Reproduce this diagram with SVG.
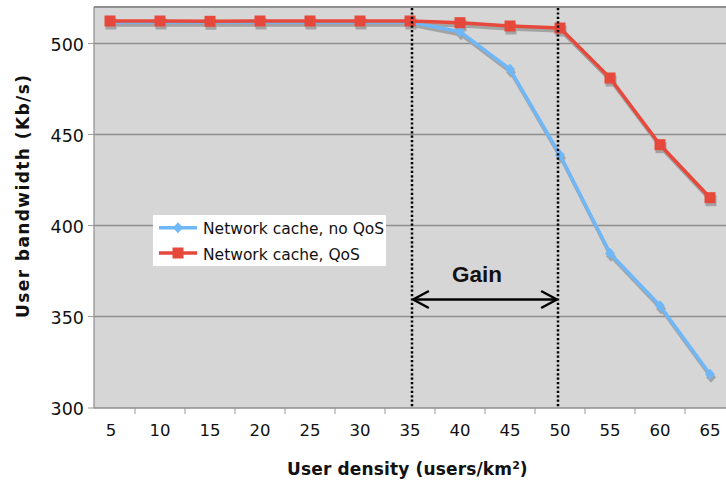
<svg xmlns="http://www.w3.org/2000/svg" width="726" height="484" viewBox="0 0 726 484">
  <defs>
    <style>
      .grid { stroke: #8e8e8e; stroke-width: 1.6; fill: none; }
      .tick { stroke: #9a9a9a; stroke-width: 1; }
      .ylab { font-family: "DejaVu Sans", Verdana, sans-serif; font-size: 17.5px; fill: #111; text-anchor: end; }
      .xlab { font-family: "DejaVu Sans", Verdana, sans-serif; font-size: 16.5px; fill: #111; text-anchor: middle; }
      .title { font-family: "DejaVu Sans", Verdana, sans-serif; font-size: 17px; font-weight: bold; fill: #111; }
      .legtext { font-family: "DejaVu Sans", Verdana, sans-serif; font-size: 15.5px; fill: #111; }
      .shadow { stroke: #a3a3a3; stroke-width: 3.5; fill: none; stroke-linejoin: round; }
      .blue { stroke: #6fb7f7; stroke-width: 3.5; fill: none; stroke-linejoin: round; }
      .red { stroke: #e6483b; stroke-width: 3.5; fill: none; stroke-linejoin: round; }
      .marker-red { fill: #e6483b; }
      .marker-blue { fill: #6fb7f7; }
      .marker-shadow { fill: #a3a3a3; }
      .dotted { stroke: #000; stroke-width: 2.5; stroke-dasharray: 2.2 2.2; fill: none; }
    </style>
    <rect id="sq" x="-5.5" y="-5.5" width="11" height="11"/>
    <path id="dm" d="M0,-5.5 L5,0 L0,5.5 L-5,0 Z"/>
    <path id="arrowOpen" d="M0,0 L-15,-8 M0,0 L-15,8" stroke="#000" stroke-width="2.5" fill="none" stroke-linecap="round"/>
  </defs>

  <rect x="0" y="0" width="726" height="484" fill="#ffffff"/>

  <!-- plot area -->
  <g id="plot-area">
    <rect x="94" y="7" width="632" height="401" fill="#d6d6d6"/>
    <line x1="94" y1="7" x2="726" y2="7" stroke="#8e8e8e" stroke-width="2"/>
    <line class="grid" x1="94" y1="43.5" x2="726" y2="43.5"/>
    <line class="grid" x1="94" y1="134.5" x2="726" y2="134.5"/>
    <line class="grid" x1="94" y1="225.5" x2="726" y2="225.5"/>
    <line class="grid" x1="94" y1="316.5" x2="726" y2="316.5"/>
    <line class="grid" x1="94" y1="408" x2="726" y2="408"/>
    <line x1="94" y1="7" x2="94" y2="408" stroke="#8e8e8e" stroke-width="1.2"/>
  </g>

  <!-- axis ticks -->
  <g id="ticks">
    <line class="tick" x1="88" y1="43.5" x2="94" y2="43.5"/>
    <line class="tick" x1="88" y1="134.5" x2="94" y2="134.5"/>
    <line class="tick" x1="88" y1="225.5" x2="94" y2="225.5"/>
    <line class="tick" x1="88" y1="316.5" x2="94" y2="316.5"/>
    <line class="tick" x1="88" y1="408" x2="94" y2="408"/>
    <line class="tick" x1="135" y1="408" x2="135" y2="414"/>
    <line class="tick" x1="185" y1="408" x2="185" y2="414"/>
    <line class="tick" x1="235" y1="408" x2="235" y2="414"/>
    <line class="tick" x1="285" y1="408" x2="285" y2="414"/>
    <line class="tick" x1="335" y1="408" x2="335" y2="414"/>
    <line class="tick" x1="385" y1="408" x2="385" y2="414"/>
    <line class="tick" x1="435" y1="408" x2="435" y2="414"/>
    <line class="tick" x1="485" y1="408" x2="485" y2="414"/>
    <line class="tick" x1="535" y1="408" x2="535" y2="414"/>
    <line class="tick" x1="585" y1="408" x2="585" y2="414"/>
    <line class="tick" x1="635" y1="408" x2="635" y2="414"/>
    <line class="tick" x1="685" y1="408" x2="685" y2="414"/>
  </g>

  <!-- y axis labels -->
  <g id="y-labels">
    <text class="ylab" x="84" y="50.5">500</text>
    <text class="ylab" x="84" y="141.5">450</text>
    <text class="ylab" x="84" y="232.5">400</text>
    <text class="ylab" x="84" y="323.5">350</text>
    <text class="ylab" x="84" y="415">300</text>
  </g>

  <!-- x axis labels -->
  <g id="x-labels">
    <text class="xlab" x="111" y="436">5</text>
    <text class="xlab" x="160" y="436">10</text>
    <text class="xlab" x="210" y="436">15</text>
    <text class="xlab" x="260" y="436">20</text>
    <text class="xlab" x="310" y="436">25</text>
    <text class="xlab" x="360" y="436">30</text>
    <text class="xlab" x="410" y="436">35</text>
    <text class="xlab" x="460" y="436">40</text>
    <text class="xlab" x="510" y="436">45</text>
    <text class="xlab" x="560" y="436">50</text>
    <text class="xlab" x="610" y="436">55</text>
    <text class="xlab" x="660" y="436">60</text>
    <text class="xlab" x="710" y="436">65</text>
  </g>

  <!-- axis titles -->
  <g id="axis-titles">
    <text class="title" x="287" y="475"><tspan textLength="225" lengthAdjust="spacing">User density (users/km</tspan><tspan font-size="11px" dy="-6.5">2</tspan><tspan dy="6.5">)</tspan></text>
    <text class="title" transform="translate(28.5,318) rotate(-90)" x="0" y="0" textLength="243" lengthAdjust="spacing">User bandwidth (Kb/s)</text>
  </g>

  <!-- series shadows -->
  <g id="series-shadows" transform="translate(1,3)">
    <polyline class="shadow" points="110,22 160,22 210,22 260,22 310,22 360,22 410,22 460,31.7 510,69.3 560,155 610,253.3 660,305.7 710,374.3"/>
    <polyline class="shadow" points="110,21 160,21 210,21.3 260,21 310,21 360,21 410,21 460,22.7 510,26 560,28 610,78 660,144.7 710,197.7"/>
    <g class="marker-shadow">
      <use href="#dm" x="460" y="31.7"/><use href="#dm" x="510" y="69.3"/><use href="#dm" x="560" y="155"/>
      <use href="#dm" x="610" y="253.3"/><use href="#dm" x="660" y="305.7"/><use href="#dm" x="710" y="374.3"/>
      <use href="#sq" x="110" y="21"/><use href="#sq" x="160" y="21"/><use href="#sq" x="210" y="21.3"/>
      <use href="#sq" x="260" y="21"/><use href="#sq" x="310" y="21"/><use href="#sq" x="360" y="21"/>
      <use href="#sq" x="410" y="21"/><use href="#sq" x="460" y="22.7"/><use href="#sq" x="510" y="26"/>
      <use href="#sq" x="560" y="28"/><use href="#sq" x="610" y="78"/><use href="#sq" x="660" y="144.7"/>
      <use href="#sq" x="710" y="197.7"/>
    </g>
  </g>

  <!-- series: Network cache, no QoS -->
  <g id="series-noqos">
    <polyline class="blue" points="110,22 160,22 210,22 260,22 310,22 360,22 410,22 460,31.7 510,69.3 560,155 610,253.3 660,305.7 710,374.3"/>
    <g class="marker-blue">
      <use href="#dm" x="460" y="31.7"/><use href="#dm" x="510" y="69.3"/><use href="#dm" x="560" y="155"/>
      <use href="#dm" x="610" y="253.3"/><use href="#dm" x="660" y="305.7"/><use href="#dm" x="710" y="374.3"/>
    </g>
  </g>

  <!-- series: Network cache, QoS -->
  <g id="series-qos">
    <polyline class="red" points="110,21 160,21 210,21.3 260,21 310,21 360,21 410,21 460,22.7 510,26 560,28 610,78 660,144.7 710,197.7"/>
    <g class="marker-red">
      <use href="#sq" x="110" y="21"/><use href="#sq" x="160" y="21"/><use href="#sq" x="210" y="21.3"/>
      <use href="#sq" x="260" y="21"/><use href="#sq" x="310" y="21"/><use href="#sq" x="360" y="21"/>
      <use href="#sq" x="410" y="21"/><use href="#sq" x="460" y="22.7"/><use href="#sq" x="510" y="26"/>
      <use href="#sq" x="560" y="28"/><use href="#sq" x="610" y="78"/><use href="#sq" x="660" y="144.7"/>
      <use href="#sq" x="710" y="197.7"/>
    </g>
  </g>

  <!-- gain markers -->
  <g id="connectors">
    <line class="dotted" x1="412" y1="8" x2="412" y2="408"/>
    <line class="dotted" x1="558" y1="8" x2="558" y2="408"/>
    <line x1="413" y1="299.5" x2="557" y2="299.5" stroke="#000" stroke-width="2.5"/>
    <use href="#arrowOpen" transform="translate(557,299.5)"/>
    <use href="#arrowOpen" transform="translate(413,299.5) rotate(180)"/>
  </g>
  <g id="gain-label">
    <text x="477" y="282" font-family="'Liberation Sans', Arial, sans-serif" font-size="22.5px" font-weight="bold" fill="#111" text-anchor="middle">Gain</text>
  </g>

  <!-- legend -->
  <g id="legend">
    <rect x="153" y="215" width="233" height="51" fill="#ffffff"/>
    <line x1="159" y1="227.7" x2="197" y2="227.7" class="blue"/>
    <use href="#dm" x="178" y="227.7" class="marker-blue"/>
    <text class="legtext" x="203" y="234">Network cache, no QoS</text>
    <line x1="159" y1="253" x2="197" y2="253" class="red"/>
    <use href="#sq" x="178" y="253" class="marker-red"/>
    <text class="legtext" x="203" y="259.5">Network cache, QoS</text>
  </g>
</svg>
